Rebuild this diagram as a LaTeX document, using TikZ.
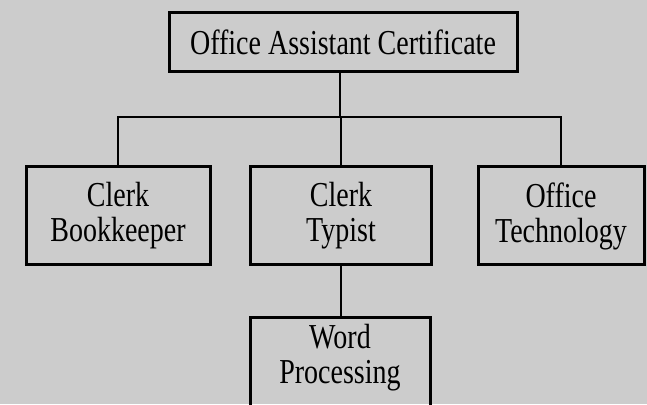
\documentclass[tikz,border=0pt]{standalone}
\usepackage{fontspec}
\setmainfont{Liberation Serif}[FakeStretch=0.8]
\begin{document}
\begin{tikzpicture}[x=1pt,y=1pt,
  box/.style={draw=black, line width=3pt, inner sep=0pt, align=center,
              font=\fontsize{35}{35}\selectfont},
  caption/.style={inner sep=0pt, align=center, font=\fontsize{35}{35}\selectfont},
  link/.style={line width=2.6pt, line join=miter}]
% page and paper tone
\clip (0,0) rectangle (647,404);
\fill[black!20] (0,0) rectangle (647,404);

% certificate and its three programmes
\node[box, minimum width=348, minimum height=59] (cert) at (343,361.5) {Office Assistant Certificate};
\node[box, minimum width=184, minimum height=98] (clb) at (118,188) {Clerk\\Bookkeeper};
\node[box, minimum width=181, minimum height=98] (clt) at (341,188) {Clerk\\Typist};
\node[box, minimum width=166, minimum height=98] (oft) at (561,188) {Office\\Technology};

% follow-on course below the typist programme (runs off the page)
\node[box, minimum width=180, minimum height=130, anchor=north] (wp) at (340,88) {};
\node[caption] (wptext) at (340,46) {Word\\Processing};

% branching lines
\coordinate (bus) at (340,287);
\draw[link] (cert.south -| bus) -- (bus);
\draw[link] (clb.north) -- (clb.north |- bus) -- (oft.north |- bus) -- (oft.north);
\draw[link] (clt.north) -- (clt.north |- bus);
\draw[link] (clt.south) -- (clt.south |- wp.north);
\end{tikzpicture}
\end{document}
